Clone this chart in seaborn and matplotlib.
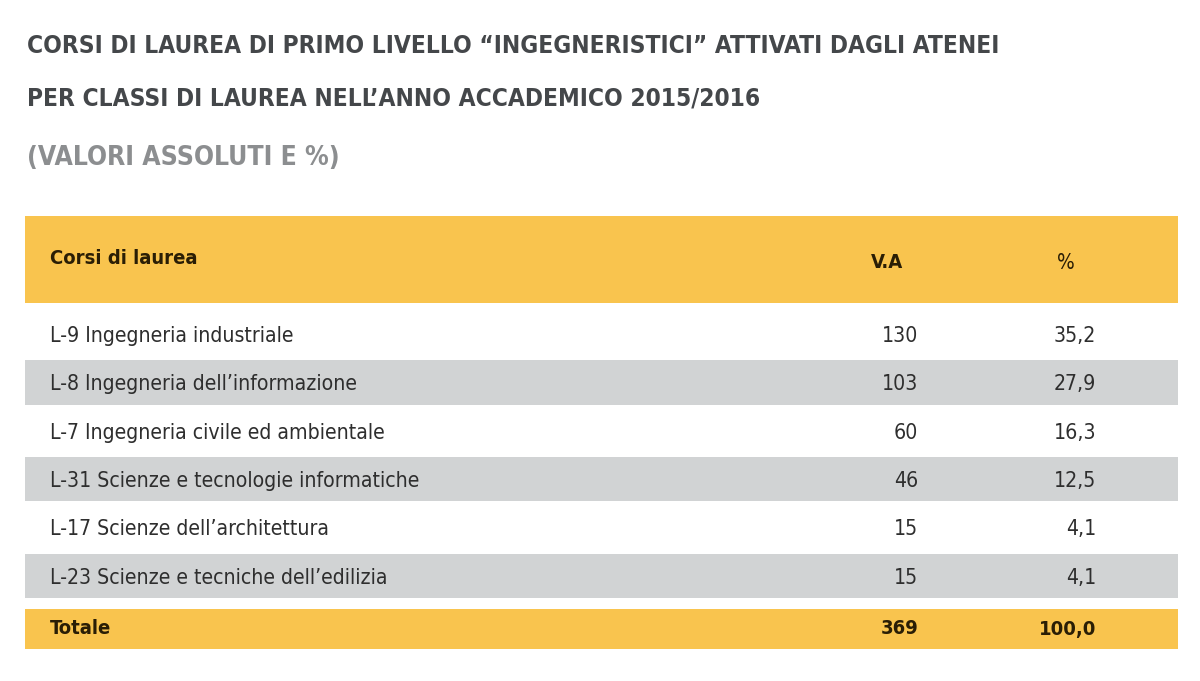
import matplotlib
matplotlib.use('Agg')
import matplotlib.pyplot as plt
import seaborn as sns

# data
title_lines = ['CORSI DI LAUREA DI PRIMO LIVELLO \u201cINGEGNERISTICI\u201d ATTIVATI DAGLI ATENEI',
               'PER CLASSI DI LAUREA NELL\u2019ANNO ACCADEMICO 2015/2016']
subtitle = '(VALORI ASSOLUTI E %)'
col_headers = ['Corsi di laurea', 'V.A', '%']
courses = ['L-9 Ingegneria industriale',
           'L-8 Ingegneria dell\u2019informazione',
           'L-7 Ingegneria civile ed ambientale',
           'L-31 Scienze e tecnologie informatiche',
           'L-17 Scienze dell\u2019architettura',
           'L-23 Scienze e tecniche dell\u2019edilizia']
va = [130, 103, 60, 46, 15, 15]
pct = [35.2, 27.9, 16.3, 12.5, 4.1, 4.1]
total_label = 'Totale'
total_va = 369
total_pct = 100.0

sns.set_theme(style="white")
plt.rcParams['font.family'] = ['DejaVu Sans']
plt.rcParams['font.stretch'] = 'condensed'

yellow = '#F9C44E'
grey = '#D1D3D4'
dark = '#2e2e2e'
brown = '#2a1e05'

fig = plt.figure(figsize=(12, 6.81), dpi=100)
ax = fig.add_axes([0, 0, 1, 1])
ax.set_xlim(0, 1200)
ax.set_ylim(681, 0)
ax.axis('off')

def fmt(v):
    return f'{v:.1f}'.replace('.', ',')

left, right = 25, 1178
xmn, xmx = left / 1200, right / 1200
kw = dict(va='center', stretch='condensed')

# header band
ax.axhspan(216, 303, xmin=xmn, xmax=xmx, color=yellow, lw=0)
ax.text(50, 259, col_headers[0], fontsize=14.5, fontweight='bold', color=brown, **kw)
ax.text(887, 263, col_headers[1], fontsize=14.5, fontweight='bold', color=brown, ha='center', **kw)
ax.text(1066, 263, col_headers[2], fontsize=15, color=brown, ha='center', **kw)

# body rows
row_h = 48.3
top = 313
for i, (c, v, p) in enumerate(zip(courses, va, pct)):
    y0 = top + i * row_h
    if i % 2 == 1:
        ax.axhspan(y0 - 1, y0 + row_h - 5, xmin=xmn, xmax=xmx, color=grey, lw=0)
    yc = y0 + row_h / 2 - 1
    ax.text(50, yc, c, fontsize=15.2, color=dark, ha='left', **kw)
    ax.text(918, yc, str(v), fontsize=15.2, color=dark, ha='right', **kw)
    ax.text(1096, yc, fmt(p), fontsize=15.2, color=dark, ha='right', **kw)

# total row
ax.axhspan(609, 649, xmin=xmn, xmax=xmx, color=yellow, lw=0)
ax.text(50, 629, total_label, fontsize=14.5, fontweight='bold', color=brown, **kw)
ax.text(918, 629, str(total_va), fontsize=14.5, fontweight='bold', color=brown, ha='right', **kw)
ax.text(1096, 629, fmt(total_pct), fontsize=14.5, fontweight='bold', color=brown, ha='right', **kw)

# titles
ax.text(27, 46, title_lines[0], fontsize=17.6, fontweight='bold', color='#44474a', **kw)
ax.text(27, 99, title_lines[1], fontsize=17.6, fontweight='bold', color='#44474a', **kw)
ax.text(27, 158, subtitle, fontsize=19, fontweight='bold', color='#8c8e90', **kw)

fig.savefig('out.png', dpi=100)
